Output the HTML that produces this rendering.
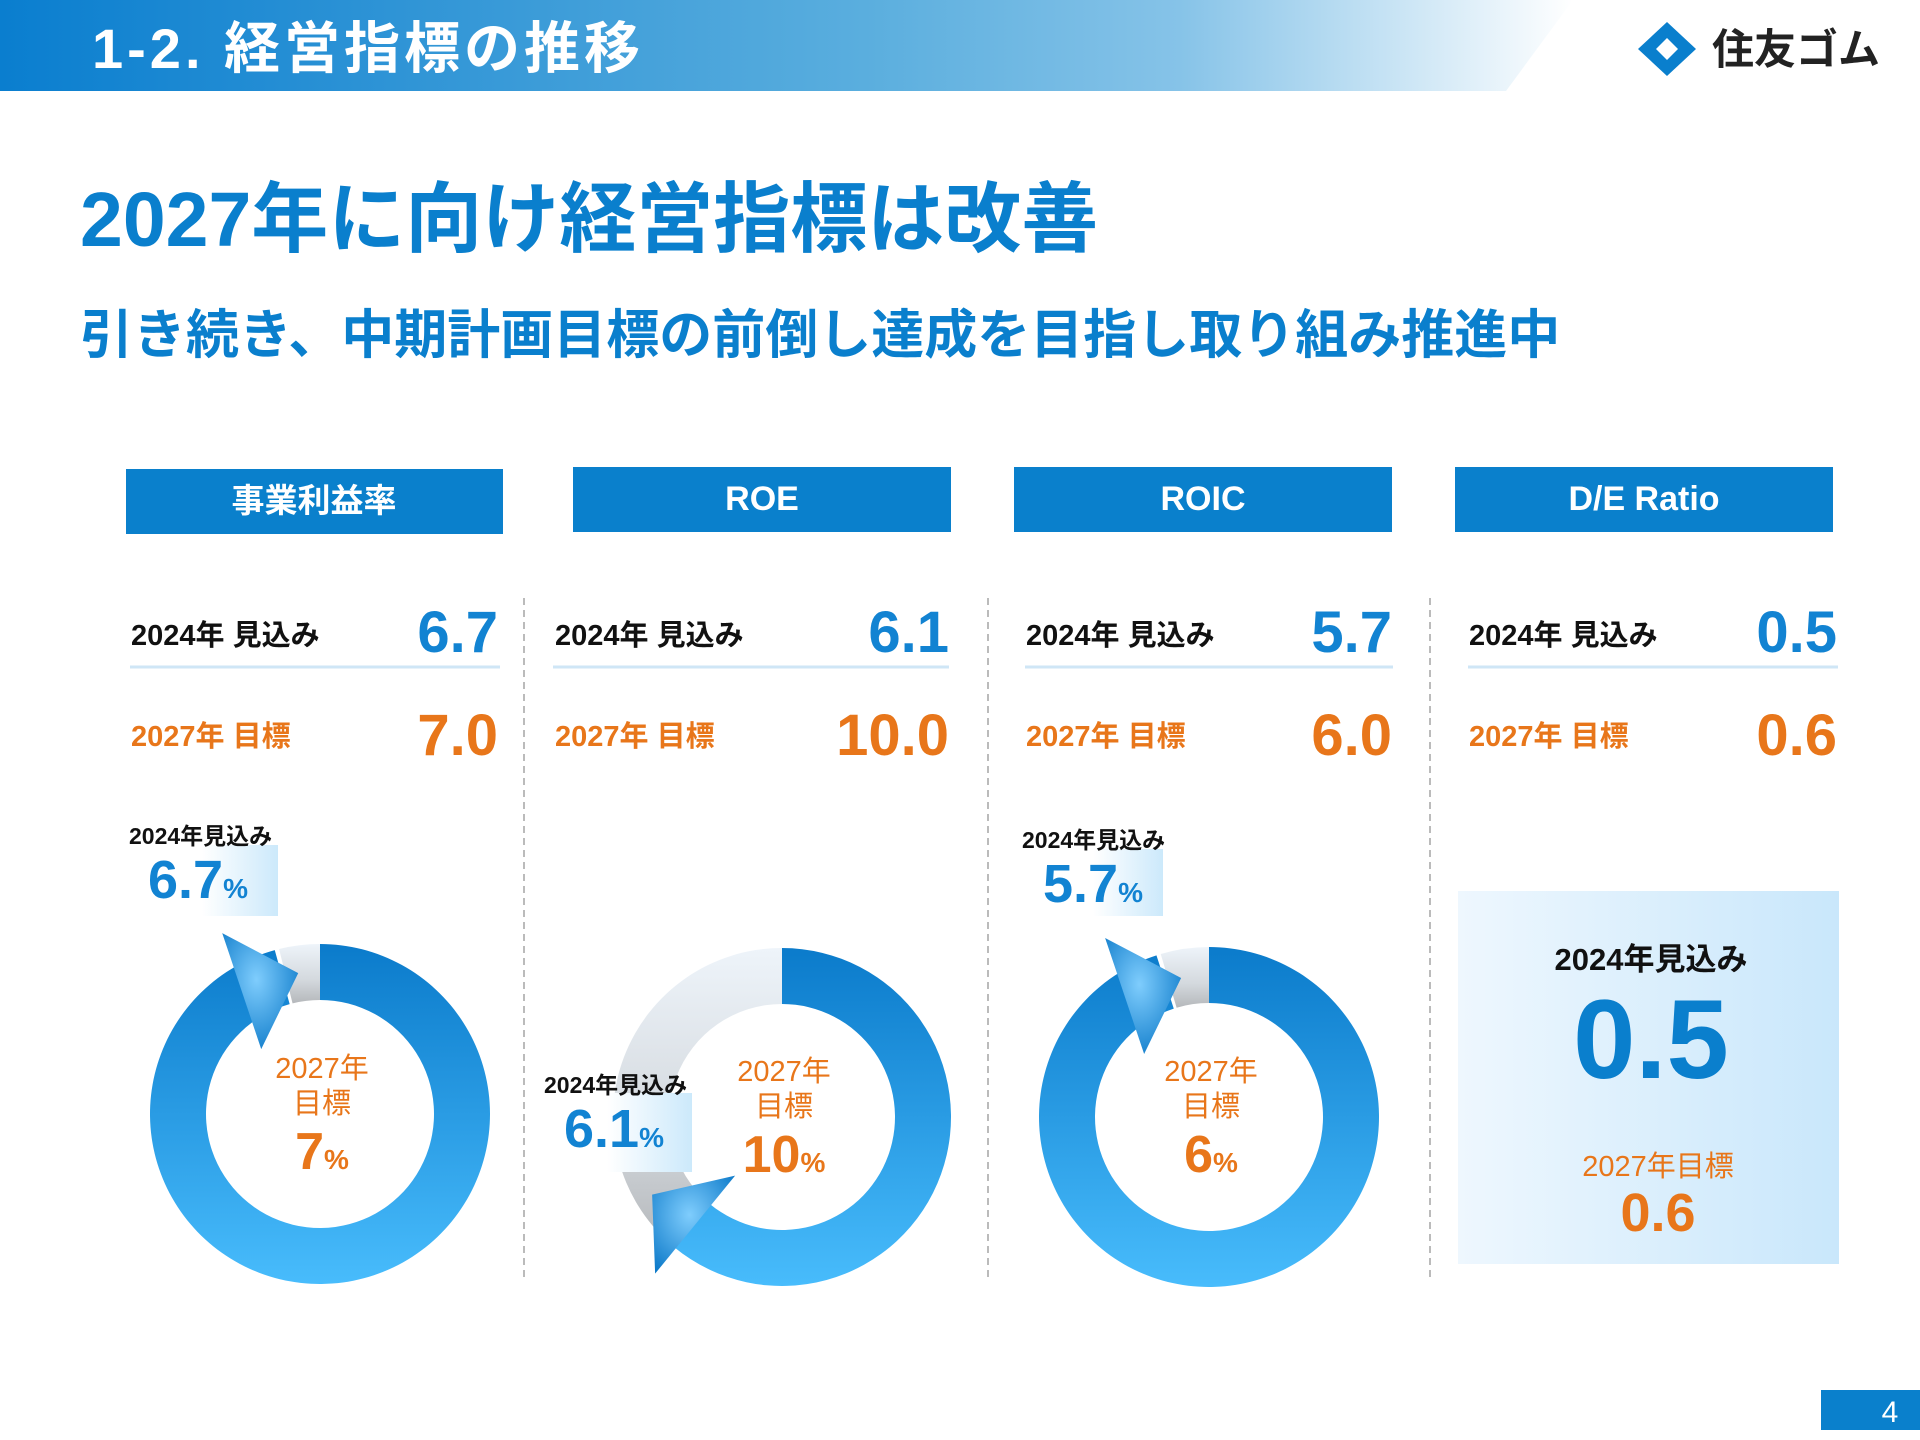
<!DOCTYPE html>
<html><head><meta charset="utf-8">
<style>
html,body{margin:0;padding:0;background:#fff;}
svg{display:block;font-family:"Liberation Sans","Noto Sans CJK JP",sans-serif;}
</style></head>
<body>
<svg id="slide" width="1920" height="1440" viewBox="0 0 1920 1440" xmlns="http://www.w3.org/2000/svg">
<defs>
  <linearGradient id="hdr" x1="0" x2="1" y1="0" y2="0">
    <stop offset="0" stop-color="#0a7ecf"/>
    <stop offset="0.55" stop-color="#5aaede"/>
    <stop offset="0.75" stop-color="#86c3e8"/>
    <stop offset="1" stop-color="#ffffff"/>
  </linearGradient>
  <linearGradient id="ring" x1="0" x2="0" y1="0" y2="1">
    <stop offset="0" stop-color="#0b7bcb"/>
    <stop offset="1" stop-color="#48bcfc"/>
  </linearGradient>
  <linearGradient id="grey" x1="0" x2="0" y1="0" y2="1">
    <stop offset="0" stop-color="#eef4fa"/>
    <stop offset="0.6" stop-color="#d4d9de"/>
    <stop offset="1" stop-color="#b5b8bb"/>
  </linearGradient>
  <radialGradient id="tri" cx="0.45" cy="0.4" r="0.7">
    <stop offset="0" stop-color="#7fcdfd"/>
    <stop offset="1" stop-color="#0a78c8"/>
  </radialGradient>
  <linearGradient id="lblbox" x1="0" x2="1" y1="0" y2="0">
    <stop offset="0" stop-color="#ffffff"/>
    <stop offset="1" stop-color="#cce9fb"/>
  </linearGradient>
  <linearGradient id="debox" x1="0" x2="1" y1="0" y2="0">
    <stop offset="0" stop-color="#eef7fe"/>
    <stop offset="1" stop-color="#c9e7fb"/>
  </linearGradient>
</defs>

<!-- header -->
<polygon points="0,0 1573,0 1506,91 0,91" fill="url(#hdr)"/>
<text x="92" y="68" font-size="56" font-weight="bold" fill="#fff" letter-spacing="4">1-2. 経営指標の推移</text>
<g>
  <polygon points="1667,22 1696,49 1667,76 1638,49" fill="#0a7fcd"/>
  <polygon points="1667,38 1678,49 1667,60 1656,49" fill="#fff"/>
  <text x="1712" y="64" font-size="42" font-weight="bold" fill="#222">住友ゴム</text>
</g>

<text x="80" y="246" font-size="77" font-weight="bold" fill="#0a7fcd">2027年に向け経営指標は改善</text>
<text x="80" y="353" font-size="53" font-weight="bold" fill="#0a7fcd">引き続き、中期計画目標の前倒し達成を目指し取り組み推進中</text>

<!-- column headers -->
<rect x="126" y="469" width="377" height="65" fill="#0a80cc"/>
<text x="314" y="512" font-size="33" font-weight="bold" fill="#fff" text-anchor="middle">事業利益率</text>
<rect x="573" y="467" width="378" height="65" fill="#0a80cc"/>
<text x="762" y="510" font-size="34" font-weight="bold" fill="#fff" text-anchor="middle">ROE</text>
<rect x="1014" y="467" width="378" height="65" fill="#0a80cc"/>
<text x="1203" y="510" font-size="34" font-weight="bold" fill="#fff" text-anchor="middle">ROIC</text>
<rect x="1455" y="467" width="378" height="65" fill="#0a80cc"/>
<text x="1644" y="510" font-size="34" font-weight="bold" fill="#fff" text-anchor="middle">D/E Ratio</text>

<!-- separators -->
<line x1="524" y1="598" x2="524" y2="1280" stroke="#bbb" stroke-width="2" stroke-dasharray="7,5"/>
<line x1="988" y1="598" x2="988" y2="1280" stroke="#bbb" stroke-width="2" stroke-dasharray="7,5"/>
<line x1="1430" y1="598" x2="1430" y2="1280" stroke="#bbb" stroke-width="2" stroke-dasharray="7,5"/>

<g id="rows"></g>
<g id="donuts"></g>

<!-- D/E box -->
<rect x="1458" y="891" width="381" height="373" fill="url(#debox)"/>
<text x="1651" y="970" font-size="31" font-weight="bold" fill="#111" text-anchor="middle">2024年見込み</text>
<text x="1651" y="1078" font-size="112" font-weight="bold" fill="#0a7fcd" text-anchor="middle">0.5</text>
<text x="1658" y="1176" font-size="29" fill="#e8761a" text-anchor="middle">2027年目標</text>
<text x="1658" y="1231" font-size="54" font-weight="bold" fill="#e8761a" text-anchor="middle">0.6</text>

<!-- page number -->
<rect x="1821" y="1390" width="99" height="40" fill="#0a80cc"/>
<text x="1890" y="1422" font-size="30" fill="#fff" text-anchor="middle">4</text>
</svg>

<script>
const NS = "http://www.w3.org/2000/svg";
// table values
const metricNames = ["事業利益率", "ROE", "ROIC", "D/E Ratio"];
const forecast2024 = ["6.7", "6.1", "5.7", "0.5"];
const target2027 = ["7.0", "10.0", "6.0", "0.6"];
// donut values
const donutForecast = [6.7, 6.1, 5.7];
const donutTarget = [7, 10, 6];

function mk(tag, attrs, parent) {
  const e = document.createElementNS(NS, tag);
  for (const k in attrs) e.setAttribute(k, attrs[k]);
  parent.appendChild(e);
  return e;
}

// rows
const rowLayout = [
  {lx: 131, l2x: 131, rx: 498, ll: 130, lr: 500},
  {lx: 555, l2x: 555, rx: 949, ll: 553, lr: 949},
  {lx: 1026, l2x: 1026, rx: 1392, ll: 1025, lr: 1393},
  {lx: 1469, l2x: 1469, rx: 1837, ll: 1468, lr: 1838}
];
const rows = document.getElementById("rows");
forecast2024.forEach((v, i) => {
  const L = rowLayout[i];
  const t1 = mk("text", {x: L.lx, y: 645, "font-size": 29, "font-weight": "bold", fill: "#111"}, rows);
  t1.textContent = i === 1 ? "2024年  見込み" : "2024年 見込み";
  
  
  const v1 = mk("text", {x: L.rx, y: 652, "font-size": 58, "font-weight": "bold", fill: "#1283d2", "text-anchor": "end"}, rows);
  v1.textContent = v;
  
  
  const ln = mk("line", {x1: L.ll, x2: L.lr, y1: 667, y2: 667, stroke: "#cfe6f6", "stroke-width": 3}, rows);
  
  
  const t2 = mk("text", {x: L.l2x, y: 746, "font-size": 29, "font-weight": "bold", fill: "#e8761a"}, rows);
  t2.textContent = i === 1 ? "2027年  目標" : "2027年 目標";
  
  
  const v2 = mk("text", {x: L.rx, y: 755, "font-size": 58, "font-weight": "bold", fill: "#e8761a", "text-anchor": "end"}, rows);
  v2.textContent = target2027[i];
  
  
});

// donuts
const donutLayout = [
  {cx: 320, cy: 1114, R: 170, r: 114, tri: [[-60,-44],[16,-4],[-21,72]],
   lblX: 129, lblY: 844, valX: 148, valY: 898, box: [202, 845, 76, 71]},
  {cx: 782, cy: 1117, R: 169, r: 113, tri: [[-40,-31],[43,-50],[-37,48]],
   lblX: 544, lblY: 1093, valX: 564, valY: 1147, box: [607, 1093, 85, 79]},
  {cx: 1209, cy: 1117, R: 170, r: 114, tri: [[-60,-44],[16,-4],[-21,72]],
   lblX: 1022, lblY: 848, valX: 1043, valY: 902, box: [1093, 849, 70, 67]}
];
function pt(cx, cy, rad, deg) {
  const a = deg * Math.PI / 180;
  return [cx + rad * Math.sin(a), cy - rad * Math.cos(a)];
}
function arc(cx, cy, R, r, a0, a1) {
  const large = (a1 - a0) > 180 ? 1 : 0;
  const p0 = pt(cx, cy, R, a0), p1 = pt(cx, cy, R, a1);
  const q1 = pt(cx, cy, r, a1), q0 = pt(cx, cy, r, a0);
  return `M${p0[0]},${p0[1]} A${R},${R} 0 ${large} 1 ${p1[0]},${p1[1]} L${q1[0]},${q1[1]} A${r},${r} 0 ${large} 0 ${q0[0]},${q0[1]} Z`;
}
const dg = document.getElementById("donuts");
donutForecast.forEach((val, i) => {
  const L = donutLayout[i];
  const end = Math.min(val / donutTarget[i], 1) * 360;
  const g = mk("g", {}, dg);
  
  
  const rest = mk("path", {d: arc(L.cx, L.cy, L.R, L.r, end + 1.5, 359.999), fill: "url(#grey)"}, g);
  
  
  const seg = mk("path", {d: arc(L.cx, L.cy, L.R, L.r, 0, end), fill: "url(#ring)"}, g);
  
  
  const mid = pt(L.cx, L.cy, (L.R + L.r) / 2, end);
  const tp = L.tri.map(o => (mid[0] + o[0]) + "," + (mid[1] + o[1])).join(" ");
  const tri = mk("polygon", {points: tp, fill: "url(#tri)"}, g);
  
  
  const c1 = mk("text", {x: L.cx + 2, y: L.cy - 36, "font-size": 29, fill: "#e8761a", "text-anchor": "middle"}, g);
  c1.textContent = "2027年";
  
  
  const c2 = mk("text", {x: L.cx + 2, y: L.cy - 1, "font-size": 29, fill: "#e8761a", "text-anchor": "middle"}, g);
  c2.textContent = "目標";
  
  
  const c3 = mk("text", {x: L.cx + 2, y: L.cy + 55, "font-size": 52, "font-weight": "bold", fill: "#e8761a", "text-anchor": "middle"}, g);
  c3.innerHTML = donutTarget[i] + '<tspan font-size="28">%</tspan>';
  
  
  const bx = mk("rect", {x: L.box[0], y: L.box[1], width: L.box[2], height: L.box[3], fill: "url(#lblbox)"}, g);
  
  
  const f1 = mk("text", {x: L.lblX, y: L.lblY, "font-size": 23, "font-weight": "bold", fill: "#111"}, g);
  f1.textContent = "2024年見込み";
  
  
  const f2 = mk("text", {x: L.valX, y: L.valY, "font-size": 54, "font-weight": "bold", fill: "#1283d2"}, g);
  f2.innerHTML = val.toFixed(1) + '<tspan font-size="28">%</tspan>';
  
  
});
</script>
</body></html>
